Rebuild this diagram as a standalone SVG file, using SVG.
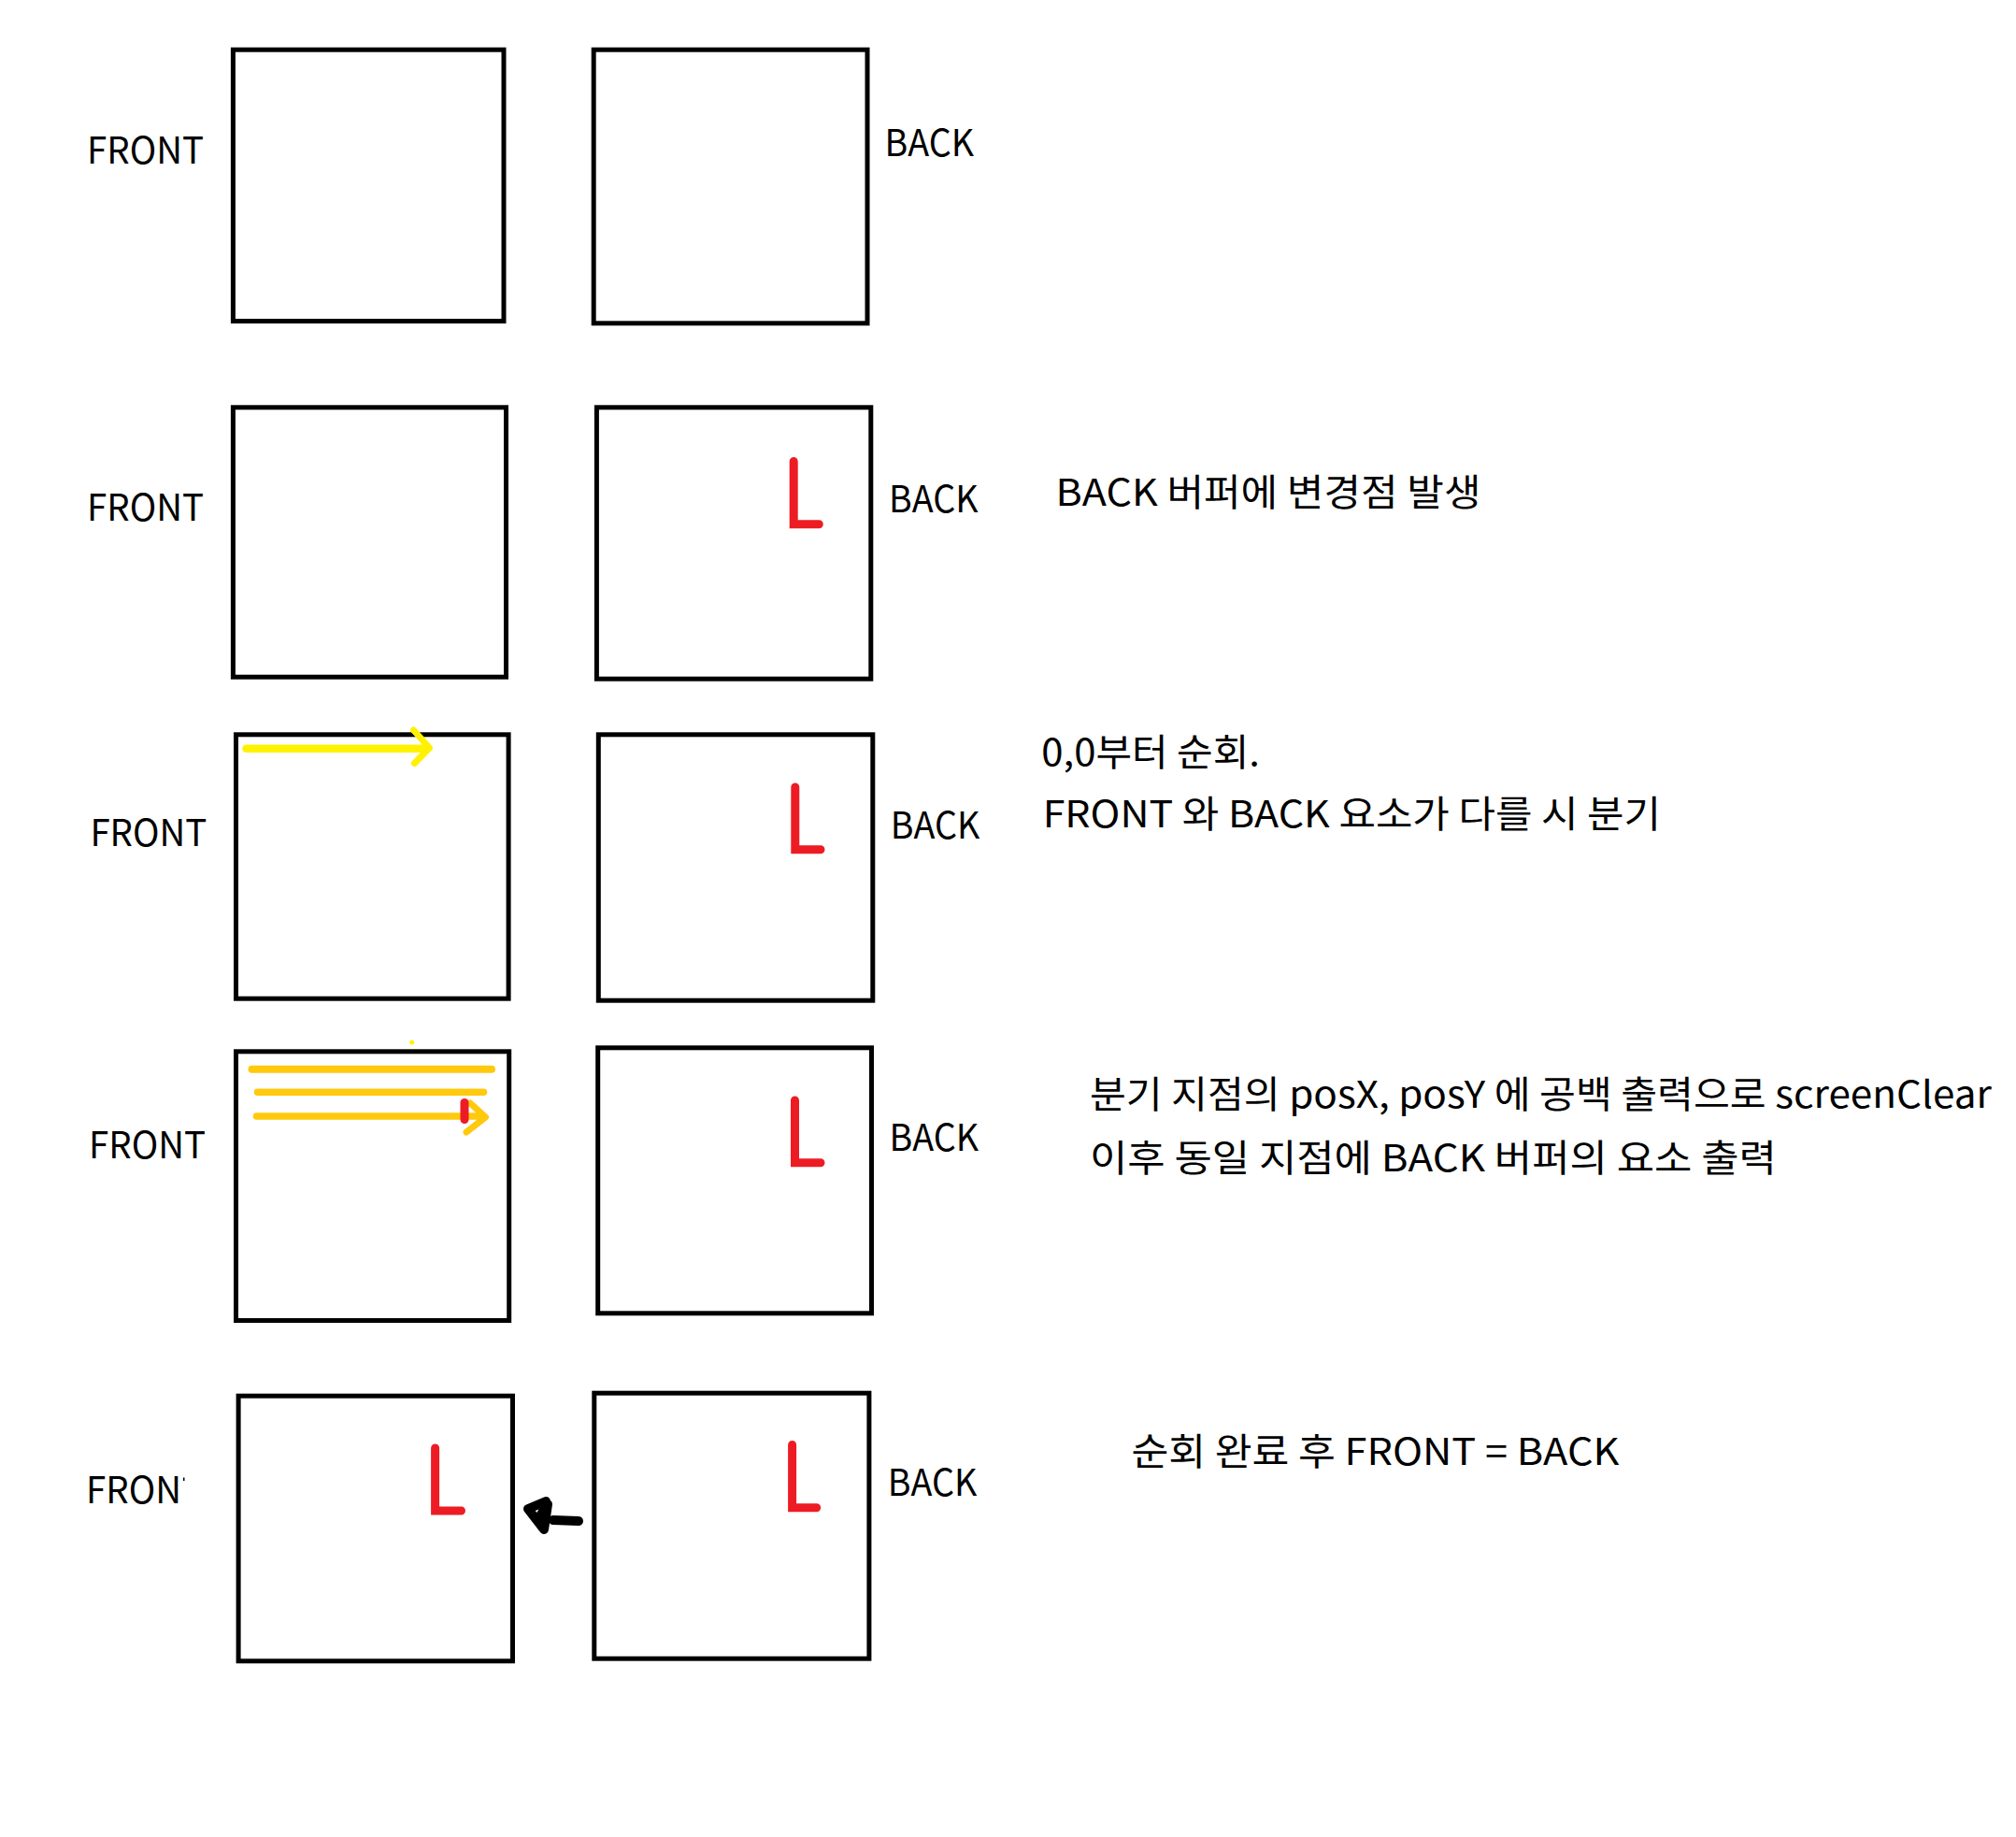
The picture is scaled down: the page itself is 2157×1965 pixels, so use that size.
<svg xmlns="http://www.w3.org/2000/svg" width="2157" height="1965" viewBox="0 0 2157 1965">
<style>
.box{fill:#fff;stroke:#000;stroke-width:5}
.lbl{font-family:"Noto Sans CJK KR","Noto Sans",sans-serif;font-size:40px;fill:#000}
.redL{fill:none;stroke:#ED1C24;stroke-width:9;stroke-linecap:round;stroke-linejoin:miter}
.yel{fill:none;stroke:#FFF200;stroke-linecap:round;stroke-linejoin:round}
.org{fill:none;stroke:#FFC90E;stroke-linecap:round;stroke-linejoin:round}
</style>
<rect width="2157" height="1965" fill="#fff"/>

<g id="row1">
  <text class="lbl" x="93" y="175" textLength="125" lengthAdjust="spacingAndGlyphs">FRONT</text>
  <rect id="front1" class="box" x="249.4" y="53.2" width="289.6" height="290.3"/>
  <rect id="back1" class="box" x="635.2" y="53.2" width="292.8" height="292.6"/>
  <text class="lbl" x="946.5" y="166.7" textLength="95.6" lengthAdjust="spacingAndGlyphs">BACK</text>
</g>

<g id="row2">
  <text class="lbl" x="93" y="556.7" textLength="125" lengthAdjust="spacingAndGlyphs">FRONT</text>
  <rect id="front2" class="box" x="249.4" y="435.8" width="292.1" height="288.4"/>
  <rect id="back2" class="box" x="638.4" y="435.8" width="293.4" height="290.4"/>
  <path class="redL" d="M849.2,493.5 L849.2,560.7 L876.3,560.7"/>
  <text class="lbl" x="951" y="548.3" textLength="95.6" lengthAdjust="spacingAndGlyphs">BACK</text>
  <text class="lbl" x="1129.5" y="541" textLength="455" lengthAdjust="spacingAndGlyphs">BACK 버퍼에 변경점 발생</text>
</g>

<g id="row3">
  <text class="lbl" x="96.4" y="905" textLength="125" lengthAdjust="spacingAndGlyphs">FRONT</text>
  <rect id="front3" class="box" x="252.5" y="785.8" width="291.6" height="282.4"/>
  <path class="yel" stroke-width="8.5" d="M263.5,800.7 L457,800.7"/>
  <path class="yel" stroke-width="7" d="M442.5,781 L459.5,800 L443.5,816.5"/>
  <rect id="back3" class="box" x="640.3" y="785.8" width="293.5" height="284.4"/>
  <path class="redL" d="M850.8,842 L850.8,908.7 L878,908.7"/>
  <text class="lbl" x="952.8" y="896.7" textLength="95.6" lengthAdjust="spacingAndGlyphs">BACK</text>
  <text class="lbl" x="1114.3" y="819.3" textLength="233.6" lengthAdjust="spacingAndGlyphs">0,0부터 순회.</text>
  <text class="lbl" x="1115.7" y="885" textLength="661.4" lengthAdjust="spacingAndGlyphs">FRONT 와 BACK 요소가 다를 시 분기</text>
</g>

<g id="row4">
  <text class="lbl" x="95" y="1239.3" textLength="125" lengthAdjust="spacingAndGlyphs">FRONT</text>
  <rect id="front4" class="box" x="252.5" y="1124.8" width="292.2" height="287.7"/>
  <circle cx="440.7" cy="1115" r="2.5" fill="#FFF200"/>
  <path class="org" stroke-width="8" d="M269.5,1143.8 L526,1143.8"/>
  <path class="org" stroke-width="7.5" d="M275.5,1168.3 L517.5,1168.3"/>
  <path class="org" stroke-width="7.5" d="M274.5,1194 L515,1194"/>
  <path class="org" stroke-width="7" d="M503,1180 L519.5,1195 L499,1211"/>
  <path fill="none" stroke="#ED1C24" stroke-width="9" stroke-linecap="round" d="M497,1179.5 L497,1197.5"/>
  <rect id="back4" class="box" x="639.7" y="1120.8" width="292.8" height="284"/>
  <path class="redL" d="M850.5,1177 L850.5,1243.8 L878,1243.8"/>
  <text class="lbl" x="951.6" y="1231" textLength="95.6" lengthAdjust="spacingAndGlyphs">BACK</text>
  <text class="lbl" x="1165.9" y="1185" textLength="965" lengthAdjust="spacingAndGlyphs">분기 지점의 posX, posY 에 공백 출력으로 screenClear</text>
  <text class="lbl" x="1165.9" y="1253.3" textLength="735" lengthAdjust="spacingAndGlyphs">이후 동일 지점에 BACK 버퍼의 요소 출력</text>
</g>

<g id="row5">
  <text class="lbl" x="92" y="1608.3" textLength="102" lengthAdjust="spacingAndGlyphs">FRON</text>
  <rect x="196" y="1580.5" width="1.5" height="3.5" fill="#000"/>
  <rect id="front5" class="box" x="255.1" y="1493.2" width="293.4" height="283.6"/>
  <path class="redL" d="M465.6,1549 L465.6,1616 L493.5,1616"/>
  <rect id="back5" class="box" x="635.8" y="1490.2" width="294.1" height="284"/>
  <path class="redL" d="M847.6,1545.5 L847.6,1612.8 L873.7,1612.8"/>
  <text class="lbl" x="949.7" y="1600" textLength="95.6" lengthAdjust="spacingAndGlyphs">BACK</text>
  <text class="lbl" x="1210.5" y="1566.7" textLength="522" lengthAdjust="spacingAndGlyphs">순회 완료 후 FRONT = BACK</text>
</g>

<g id="connectors">
  <path fill="none" stroke="#000" stroke-width="10" stroke-linecap="round" stroke-linejoin="round" d="M619,1627 L592,1626 M584,1606 L565,1614 L582,1636 L586,1609 L579,1620"/>
</g>
</svg>
